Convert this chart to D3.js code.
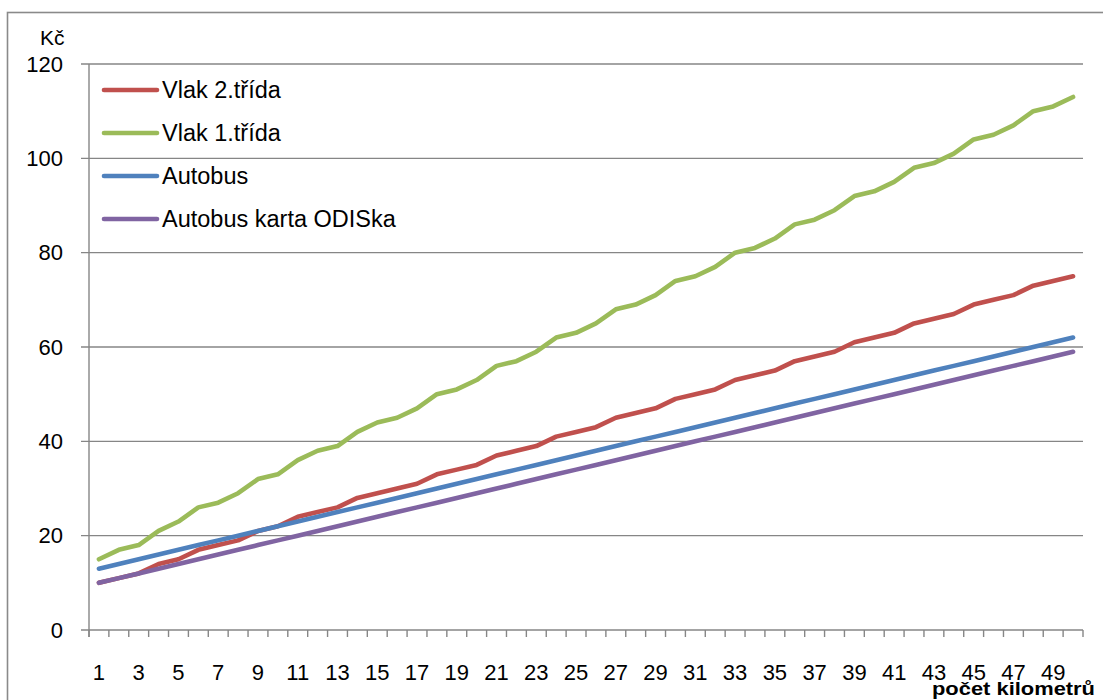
<!DOCTYPE html>
<html>
<head>
<meta charset="utf-8">
<script src="https://cdn.jsdelivr.net/npm/d3@7"></script>
<style>
  html, body { margin: 0; padding: 0; background: #fff; }
  svg { display: block; }
  text { font-family: "Liberation Sans", Arial, sans-serif; fill: #000; }
</style>
</head>
<body>
<svg id="chart" width="1103" height="700"></svg>
<script>
// Počet kilometrů (1–50)
const kilometers = d3.range(1, 51);

// Jízdné v Kč
const vlak2 = [10, 11, 12, 14, 15, 17, 18, 19, 21, 22, 24, 25, 26, 28, 29, 30, 31, 33, 34, 35,
               37, 38, 39, 41, 42, 43, 45, 46, 47, 49, 50, 51, 53, 54, 55, 57, 58, 59, 61, 62,
               63, 65, 66, 67, 69, 70, 71, 73, 74, 75];
const vlak1 = [15, 17, 18, 21, 23, 26, 27, 29, 32, 33, 36, 38, 39, 42, 44, 45, 47, 50, 51, 53,
               56, 57, 59, 62, 63, 65, 68, 69, 71, 74, 75, 77, 80, 81, 83, 86, 87, 89, 92, 93,
               95, 98, 99, 101, 104, 105, 107, 110, 111, 113];
const autobus = [13, 14, 15, 16, 17, 18, 19, 20, 21, 22, 23, 24, 25, 26, 27, 28, 29, 30, 31, 32,
                 33, 34, 35, 36, 37, 38, 39, 40, 41, 42, 43, 44, 45, 46, 47, 48, 49, 50, 51, 52,
                 53, 54, 55, 56, 57, 58, 59, 60, 61, 62];
const autobusOdis = [10, 11, 12, 13, 14, 15, 16, 17, 18, 19, 20, 21, 22, 23, 24, 25, 26, 27, 28, 29,
                     30, 31, 32, 33, 34, 35, 36, 37, 38, 39, 40, 41, 42, 43, 44, 45, 46, 47, 48, 49,
                     50, 51, 52, 53, 54, 55, 56, 57, 58, 59];

const seriesNames = ["Vlak 2.třída", "Vlak 1.třída", "Autobus", "Autobus karta ODISka"];
const seriesColors = ["#C0504D", "#9BBB59", "#4F81BD", "#8064A2"];
const yTicks = [0, 20, 40, 60, 80, 100, 120];
const xTickLabels = kilometers.filter(k => k % 2 === 1);

const series = [vlak2, vlak1, autobus, autobusOdis].map((vals, i) => ({
  name: seriesNames[i], color: seriesColors[i], values: vals
}));

const svg = d3.select("#chart");
const gridColor = "#868686";

const plot = { left: 89, right: 1083, top: 64, bottom: 630 };

const x = d3.scaleBand().domain(kilometers).range([plot.left, plot.right]).paddingInner(0).paddingOuter(0);
const y = d3.scaleLinear().domain([0, 120]).range([plot.bottom, plot.top]);
const cx = k => x(k) + x.bandwidth() / 2;

// Outer chart frame
svg.append("rect")
  .attr("x", 7.5).attr("y", 12.5)
  .attr("width", 1120).attr("height", 720)
  .attr("fill", "none").attr("stroke", "#8a8a8a").attr("stroke-width", 1.6);

// Horizontal gridlines with small outward ticks
svg.append("g").selectAll("line").data(yTicks).join("line")
  .attr("x1", plot.left - 8).attr("x2", plot.right)
  .attr("y1", d => y(d)).attr("y2", d => y(d))
  .attr("stroke", gridColor).attr("stroke-width", 1.4);

// Y axis line
svg.append("line")
  .attr("x1", plot.left).attr("x2", plot.left)
  .attr("y1", plot.top).attr("y2", plot.bottom + 7)
  .attr("stroke", gridColor).attr("stroke-width", 1.4);

// Y axis labels
const yAxis = d3.axisLeft(y).tickValues(yTicks).tickSize(0).tickPadding(26);
const gy = svg.append("g").attr("transform", `translate(${plot.left},0)`).call(yAxis);
gy.select(".domain").remove();
gy.selectAll("text").style("font-size", "22px").style("font-family", "Liberation Sans, Arial, sans-serif").attr("fill", "#000");

// Category boundary ticks on the X axis
const boundaries = kilometers.map(k => x(k)).concat([plot.right]);
svg.append("g").selectAll("line").data(boundaries).join("line")
  .attr("x1", d => d).attr("x2", d => d)
  .attr("y1", plot.bottom).attr("y2", plot.bottom + 7)
  .attr("stroke", gridColor).attr("stroke-width", 1.4);

// X axis labels (odd kilometres)
const xAxis = d3.axisBottom(x).tickValues(xTickLabels).tickSize(0).tickPadding(34);
const gx = svg.append("g").attr("transform", `translate(0,${plot.bottom})`).call(xAxis);
gx.select(".domain").remove();
gx.selectAll("text").style("font-size", "22px").style("font-family", "Liberation Sans, Arial, sans-serif").attr("fill", "#000");

// Series lines
const line = d3.line()
  .x((d, i) => cx(kilometers[i]))
  .y(d => y(d));

svg.append("g").selectAll("path").data(series).join("path")
  .attr("d", s => line(s.values))
  .attr("fill", "none")
  .attr("stroke", s => s.color)
  .attr("stroke-width", 4.6)
  .attr("stroke-linecap", "round")
  .attr("stroke-linejoin", "round");

// Legend
const legend = svg.append("g").attr("transform", "translate(104,90)");
const item = legend.selectAll("g").data(series).join("g")
  .attr("transform", (d, i) => `translate(0,${i * 43})`);
item.append("line")
  .attr("x1", 0).attr("x2", 53).attr("y1", 0).attr("y2", 0)
  .attr("stroke", d => d.color).attr("stroke-width", 4.6).attr("stroke-linecap", "round");
item.append("text")
  .attr("x", 58).attr("y", 0).attr("dy", "0.36em")
  .style("font-size", "23.5px")
  .text(d => d.name);

// Axis titles
svg.append("text")
  .attr("x", 40).attr("y", 45)
  .style("font-size", "21px")
  .text("Kč");

svg.append("text")
  .attr("x", 932).attr("y", 695)
  .attr("textLength", 163).attr("lengthAdjust", "spacingAndGlyphs")
  .style("font-size", "18px").style("font-weight", "bold")
  .text("počet kilometrů");
</script>
</body>
</html>
